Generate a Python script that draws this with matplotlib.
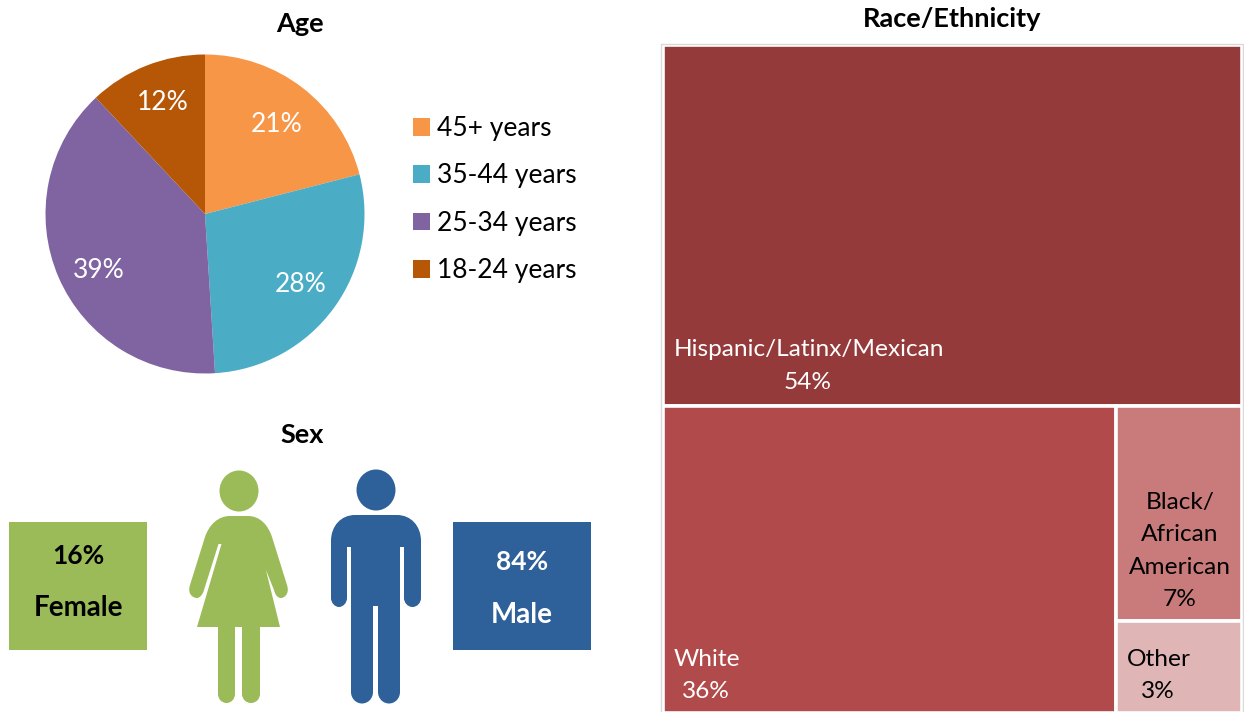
import matplotlib
matplotlib.use("Agg")
import matplotlib.pyplot as plt
from matplotlib.patches import Rectangle, Ellipse, PathPatch, Patch
from matplotlib.path import Path

plt.rcParams['font.family'] = ['Lato', 'DejaVu Sans']

W, H = 1244, 712

age_labels = ['45+ years', '35-44 years', '25-34 years', '18-24 years']
age_values = [21, 28, 39, 12]
age_colors = ['#F79646', '#4BACC6', '#8064A2', '#B65708']

sex_labels = ['Female', 'Male']
sex_values = [16, 84]
sex_colors = ['#9BBB59', '#2E6099']

race_labels = ['Hispanic/Latinx/Mexican', 'White', 'Black/\nAfrican\nAmerican', 'Other']
race_values = [54, 36, 7, 3]
race_colors = ['#953A3B', '#B14A4A', '#C97B7B', '#DFB5B5']

fig = plt.figure(figsize=(W / 100, H / 100), dpi=100, facecolor='white')

# page-level axes in pixel units
ax = fig.add_axes([0, 0, 1, 1])
ax.set_xlim(0, W)
ax.set_ylim(H, 0)
ax.axis('off')

title_fs = 19.5

# ---------- Age pie ----------
cx, cy, r = 205, 214, 159.5
pie_ax = fig.add_axes([(cx - r) / W, 1 - (cy + r) / H, 2 * r / W, 2 * r / H])
_, _, autotexts = pie_ax.pie(age_values, colors=age_colors, startangle=90, counterclock=False, radius=1,
                             autopct=lambda p: f'{p:.0f}%', pctdistance=0.72,
                             textprops=dict(color='white', fontsize=19))
pie_ax.set_xlim(-1, 1)
pie_ax.set_ylim(-1, 1)
label_px = [(277, 124), (301, 284), (99, 270), (163, 102)]
for t, (px, py) in zip(autotexts, label_px):
    t.set_position(((px - cx) / r, (cy - py) / r))
ax.text(300, 24, 'Age', ha='center', va='center', fontsize=title_fs, fontweight='bold', color='black')

handles = [Patch(facecolor=c, edgecolor='none') for c in age_colors]
ax.legend(handles, age_labels, loc='upper left', bbox_to_anchor=(405 / W, 1 - 108 / H),
          bbox_transform=fig.transFigure, frameon=False, fontsize=19,
          handlelength=0.66, handleheight=0.66, handletextpad=0.25,
          labelspacing=0.85, borderpad=0.3, borderaxespad=0)

# ---------- Sex ----------
ax.text(302, 435, 'Sex', ha='center', va='center', fontsize=title_fs, fontweight='bold', color='black')
box_x = [9, 453]
text_y = [(556, 608), (562, 615)]
for x, c, v, lab, (y1, y2) in zip(box_x, sex_colors, sex_values, sex_labels, text_y):
    ax.add_patch(Rectangle((x, 522), 138, 128, facecolor=c, edgecolor='none'))
    tc = 'black' if lab == 'Female' else 'white'
    ax.text(x + 69, y1, f'{v}%', ha='center', va='center', fontsize=19, fontweight='bold', color=tc)
    ax.text(x + 69, y2, lab, ha='center', va='center', fontsize=20, fontweight='bold', color=tc)

# female figure
fc = sex_colors[0]
ax.add_patch(Ellipse((239, 491), 39, 41, facecolor=fc, edgecolor='none'))
M, L, C4, Z = Path.MOVETO, Path.LINETO, Path.CURVE4, Path.CLOSEPOLY
f_verts = [(230, 516), (248, 516),
           (260, 516), (268, 525), (272, 537),
           (287, 585),
           (290, 594), (284, 598), (281, 598),
           (277, 598), (275, 594), (274, 590),
           (255.5, 544), (259.5, 544), (280, 627), (197, 627), (221.5, 544), (218.5, 544),
           (204, 590),
           (203, 594), (200, 598), (197, 598),
           (193, 598), (187, 594), (190, 585),
           (205, 537),
           (209, 525), (218, 516), (230, 516), (230, 516)]
f_codes = [M, L, C4, C4, C4, L, C4, C4, C4, C4, C4, C4, L, L, L, L, L, L, L,
           C4, C4, C4, C4, C4, C4, L, C4, C4, C4, Z]
ax.add_patch(PathPatch(Path(f_verts, f_codes), facecolor=fc, edgecolor='none'))
for x0, x1 in [(218, 235), (242, 260)]:
    w = x1 - x0
    ax.add_patch(Rectangle((x0, 620), w, 74, facecolor=fc, edgecolor='none'))
    ax.add_patch(Ellipse((x0 + w / 2, 694), w, 18, facecolor=fc, edgecolor='none'))

# male figure
mc = sex_colors[1]
ax.add_patch(Ellipse((376, 490), 39, 41, facecolor=mc, edgecolor='none'))
m_verts = [(355, 515), (397, 515),
           (411, 515), (421, 526), (421, 541),
           (421, 598),
           (421, 603), (417, 607), (412.5, 607),
           (408, 607), (404, 603), (404, 598),
           (404, 547), (400, 547), (400, 606), (351, 606), (351, 547), (347, 547),
           (347, 598),
           (347, 603), (343, 607), (339, 607),
           (335, 607), (331, 603), (331, 598),
           (331, 541),
           (331, 526), (341, 515), (355, 515), (355, 515)]
m_codes = [M, L, C4, C4, C4, L, C4, C4, C4, C4, C4, C4, L, L, L, L, L, L, L,
           C4, C4, C4, C4, C4, C4, L, C4, C4, C4, Z]
ax.add_patch(PathPatch(Path(m_verts, m_codes), facecolor=mc, edgecolor='none'))
for x0, x1 in [(351, 373), (378, 400)]:
    w = x1 - x0
    ax.add_patch(Rectangle((x0, 600), w, 92, facecolor=mc, edgecolor='none'))
    ax.add_patch(Ellipse((x0 + w / 2, 692), w, 23, facecolor=mc, edgecolor='none'))

# ---------- Race treemap ----------
ax.text(952, 19, 'Race/Ethnicity', ha='center', va='center', fontsize=title_fs, fontweight='bold', color='black')

tx0, ty0, tw, th = 662.6, 45.3, 579.2, 668
gap = 2.6
total = sum(race_values)
h_top = th * race_values[0] / total
rest = total - race_values[0]
w_white = tw * race_values[1] / rest
right = race_values[2] + race_values[3]
h_black = (th - h_top) * race_values[2] / right
rects = [
    (tx0, ty0, tw, h_top),
    (tx0, ty0 + h_top, w_white, th - h_top),
    (tx0 + w_white, ty0 + h_top, tw - w_white, h_black),
    (tx0 + w_white, ty0 + h_top + h_black, tw - w_white, th - h_top - h_black),
]
for (x, y, w, h), c in zip(rects, race_colors):
    ax.add_patch(Rectangle((x, y), w, h, facecolor=c, edgecolor='white', linewidth=gap))
ax.add_patch(Rectangle((661, 43.5), 582, 700, facecolor='none', edgecolor='#D9D9D9', linewidth=1, zorder=5))

fs = 17.6
ax.text(674, 350, race_labels[0], ha='left', va='center', fontsize=fs, color='white')
ax.text(808, 382.5, f'{race_values[0]}%', ha='center', va='center', fontsize=fs, color='white')
ax.text(674, 659, race_labels[1], ha='left', va='center', fontsize=fs, color='white')
ax.text(706, 691, f'{race_values[1]}%', ha='center', va='center', fontsize=fs, color='white')
for y, s in zip([502, 534.5, 567], race_labels[2].split('\n')):
    ax.text(1180, y, s, ha='center', va='center', fontsize=fs, color='black')
ax.text(1180, 599, f'{race_values[2]}%', ha='center', va='center', fontsize=fs, color='black')
ax.text(1127, 659, race_labels[3], ha='left', va='center', fontsize=fs, color='black')
ax.text(1158, 691, f'{race_values[3]}%', ha='center', va='center', fontsize=fs, color='black')

fig.savefig('out.png', dpi=100)
